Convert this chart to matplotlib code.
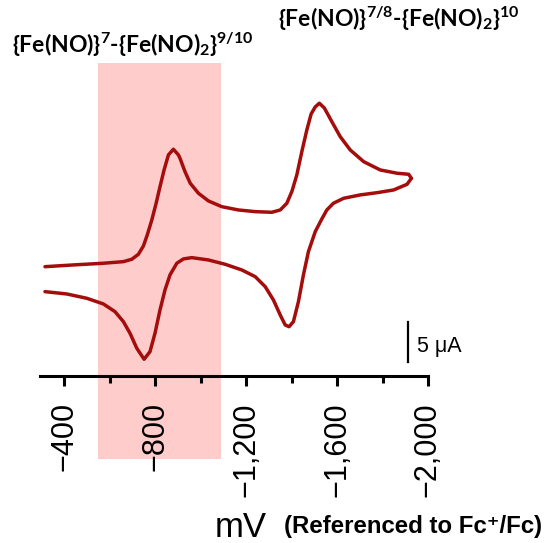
import numpy as np
import matplotlib
matplotlib.use('Agg')
import matplotlib.pyplot as plt
from matplotlib.ticker import FuncFormatter

# CV trace (potential in mV vs Fc+/Fc, current in uA, arbitrary offset)
# forward scan (towards negative potential)
E_fwd = [-315, -440, -572, -660, -697, -726, -748, -765, -785, -804, -821, -839, -858,
         -880, -902, -909, -931, -954, -990, -1034, -1093, -1166, -1240, -1313, -1350,
         -1379, -1401, -1423, -1445, -1467, -1486, -1504, -1522, -1544, -1577, -1614,
         -1658, -1717, -1790, -1864, -1915, -1927]
I_fwd = [4.16, 4.38, 4.59, 4.79, 5.09, 5.71, 6.75, 8.13, 10.0, 12.09, 14.16, 16.25, 18.13,
         18.84, 18.13, 17.71, 16.04, 14.59, 13.34, 12.38, 11.66, 11.25, 11.04, 10.96, 11.25,
         12.09, 13.54, 15.63, 18.54, 21.25, 23.25, 24.13, 24.59, 24.0, 22.29, 20.41,
         18.75, 17.29, 16.25, 15.84, 15.71, 15.21]
# return scan
E_rev = [-1927, -1908, -1849, -1776, -1702, -1629, -1584, -1555, -1533, -1504, -1474,
         -1452, -1430, -1408, -1389, -1372, -1350, -1320, -1284, -1240, -1181, -1108,
         -1034, -961, -924, -895, -865, -843, -821, -799, -777, -751, -719, -689, -660,
         -623, -572, -499, -411, -315]
I_rev = [15.21, 14.46, 13.75, 13.41, 13.13, 12.71, 12.09, 11.25, 10.13, 8.54, 6.04,
         3.13, -0.21, -2.71, -3.34, -3.13, -1.88, 0.0, 1.66, 2.91, 3.75, 4.46,
         5.0, 5.29, 5.13, 4.59, 3.13, 1.25, -1.25, -4.16, -6.46, -7.41, -6.04, -4.16, -2.71,
         -1.46, -0.5, 0.21, 0.75, 1.04]

xticks = [-400, -800, -1200, -1600, -2000]
minor_xticks = [-600, -1000, -1400, -1800]
shade_range = (-550, -1088)
scale_bar_uA = 5

dark_red = '#a50d0d'
pink = '#ffcccc'

plt.rcParams['mathtext.fontset'] = 'custom'
plt.rcParams['mathtext.rm'] = 'Lato:bold'
plt.rcParams['mathtext.it'] = 'Lato:bold'
plt.rcParams['mathtext.bf'] = 'Lato:bold'

fig = plt.figure(figsize=(5.47, 5.43), dpi=100)
ax = fig.add_axes([0.0731, 0.3076, 0.7093, 0.582])

ax.plot(E_fwd, I_fwd, color=dark_red, lw=2.5, solid_joinstyle='round', solid_capstyle='round')
ax.plot(E_rev, I_rev, color=dark_red, lw=2.5, solid_joinstyle='round', solid_capstyle='round')

ax.axvspan(shade_range[0], shade_range[1], ymin=-0.263, ymax=0.99,
           color=pink, lw=0, zorder=0, clip_on=False)

ax.set_xlim(-293, -2000)
ax.set_ylim(-9.5, 30)

for s in ['left', 'top', 'right']:
    ax.spines[s].set_visible(False)
ax.spines['bottom'].set_linewidth(2.2)
ax.set_yticks([])
ax.set_xticks(xticks)
ax.set_xticks(minor_xticks, minor=True)
ax.xaxis.set_major_formatter(FuncFormatter(lambda v, p: f'{v:,.0f}'.replace('-', '\u2212')))
ax.tick_params(axis='x', which='major', direction='out', length=7, width=2.2, pad=12,
               labelrotation=90, labelsize=22)
ax.tick_params(axis='x', which='minor', direction='out', length=5, width=2.2)
for lab in ax.get_xticklabels():
    lab.set_fontfamily('Liberation Sans')

# 5 uA scale bar
ax.plot([-1913, -1913], [-7.75, -7.75 + scale_bar_uA], color='black', lw=1.6, clip_on=False)
fig.text(0.762, 0.362, f'{scale_bar_uA} \u03bcA', fontsize=15.5, family='Liberation Sans',
         va='center', ha='left')

# axis title
fig.text(0.392, 0.028, 'mV', fontsize=25, family='Liberation Sans', va='center', ha='left')
fig.text(0.519, 0.030, '(Referenced to Fc\u207a/Fc)', fontsize=17.3, fontweight='bold',
         family=['Liberation Sans', 'DejaVu Sans'], va='center', ha='left')

# annotations
fig.text(0.022, 0.917, r'{Fe(NO)}$^{7}$-{Fe(NO)$_{2}$}$^{9/10}$', fontsize=16.5,
         family='Lato', fontweight='bold', va='center', ha='left')
fig.text(0.508, 0.965, r'{Fe(NO)}$^{7/8}$-{Fe(NO)$_{2}$}$^{10}$', fontsize=16.5,
         family='Lato', fontweight='bold', va='center', ha='left')

fig.savefig('out.png', dpi=100)
